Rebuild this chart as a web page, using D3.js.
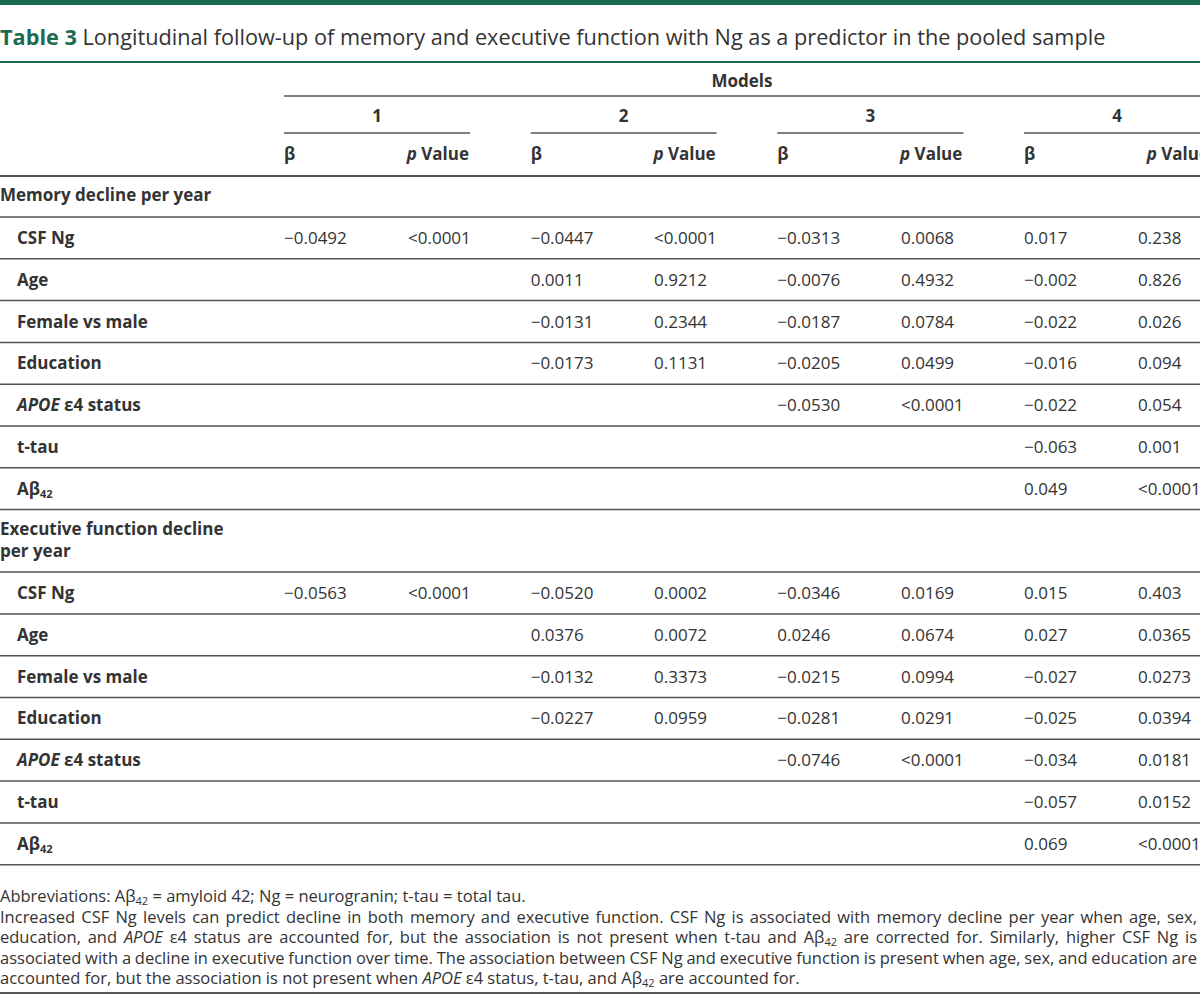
<!DOCTYPE html>
<html>
<head>
<meta charset="utf-8">
<script src="https://cdn.jsdelivr.net/npm/d3@7"></script>
<style>
body { margin: 0; background: #fff; }
svg { display: block; }
</style>
</head>
<body>
<script>
// table content
var models = ["1", "2", "3", "4"];
var predictors = ["CSF Ng", "Age", "Female vs male", "Education", "APOE \u03b54 status", "t-tau", "A\u03b242"];
var sections = ["Memory decline per year", "Executive function decline|per year"];

// beta and p per predictor, one entry per model (null = empty cell)
var memoryBeta = [
	["\u22120.0492", "\u22120.0447", "\u22120.0313", "0.017"],
	[null, "0.0011", "\u22120.0076", "\u22120.002"],
	[null, "\u22120.0131", "\u22120.0187", "\u22120.022"],
	[null, "\u22120.0173", "\u22120.0205", "\u22120.016"],
	[null, null, "\u22120.0530", "\u22120.022"],
	[null, null, null, "\u22120.063"],
	[null, null, null, "0.049"]
];
var memoryP = [
	["<0.0001", "<0.0001", "0.0068", "0.238"],
	[null, "0.9212", "0.4932", "0.826"],
	[null, "0.2344", "0.0784", "0.026"],
	[null, "0.1131", "0.0499", "0.094"],
	[null, null, "<0.0001", "0.054"],
	[null, null, null, "0.001"],
	[null, null, null, "<0.0001"]
];
var execBeta = [
	["\u22120.0563", "\u22120.0520", "\u22120.0346", "0.015"],
	[null, "0.0376", "0.0246", "0.027"],
	[null, "\u22120.0132", "\u22120.0215", "\u22120.027"],
	[null, "\u22120.0227", "\u22120.0281", "\u22120.025"],
	[null, null, "\u22120.0746", "\u22120.034"],
	[null, null, null, "\u22120.057"],
	[null, null, null, "0.069"]
];
var execP = [
	["<0.0001", "0.0002", "0.0169", "0.403"],
	[null, "0.0072", "0.0674", "0.0365"],
	[null, "0.3373", "0.0994", "0.0273"],
	[null, "0.0959", "0.0291", "0.0394"],
	[null, null, "<0.0001", "0.0181"],
	[null, null, null, "0.0152"],
	[null, null, null, "<0.0001"]
];

var titleLabel = "Table 3";
var titleText = "Longitudinal follow-up of memory and executive function with Ng as a predictor in the pooled sample";

// footnote lines, runs: n normal, i italic, sub subscript
var footLines = [
	{ just: false, runs: [{t: "Abbreviations: A\u03b2"}, {t: "42", s: "sub"}, {t: " = amyloid 42; Ng = neurogranin; t-tau = total tau."}] },
	{ just: true, runs: [{t: "Increased CSF Ng levels can predict decline in both memory and executive function. CSF Ng is associated with memory decline per year when age, sex,"}] },
	{ just: true, runs: [{t: "education, and "}, {t: "APOE", s: "i"}, {t: " \u03b54 status are accounted for, but the association is not present when t-tau and A\u03b2"}, {t: "42", s: "sub"}, {t: " are corrected for. Similarly, higher CSF Ng is"}] },
	{ just: true, runs: [{t: "associated with a decline in executive function over time. The association between CSF Ng and executive function is present when age, sex, and education are"}] },
	{ just: false, runs: [{t: "accounted for, but the association is not present when "}, {t: "APOE", s: "i"}, {t: " \u03b54 status, t-tau, and A\u03b2"}, {t: "42", s: "sub"}, {t: " are accounted for."}] }
];

var width = 1200;
var height = 997;
var green = "#1c6b4e";
var ink = "#333";
var rule = "#555";
var font = "'Open Sans', sans-serif";
var cellSize = 17;

var svg = d3.select("body")
	.append("svg")
	.attr("width", width)
	.attr("height", height)
	.style("font-family", font);

// green band at the top
svg.append("rect")
	.attr("x", 0).attr("y", 0)
	.attr("width", width).attr("height", 5)
	.attr("fill", green);

// title
var title = svg.append("text")
	.attr("x", 0).attr("y", 45)
	.attr("font-size", 21.7)
	.attr("fill", ink);
title.append("tspan").attr("font-weight", "bold").attr("fill", green).text(titleLabel);
title.append("tspan").text(" " + titleText);

svg.append("line")
	.attr("x1", 0).attr("x2", width)
	.attr("y1", 62).attr("y2", 62)
	.attr("stroke", green).attr("stroke-width", 2);

// column scales
var modelX = d3.scaleLinear().domain([0, 3]).range([284, 1024]);
var pX = d3.scaleOrdinal().domain([0, 1, 2, 3]).range([408, 654, 901, 1138]);
var spanW = 186;

function hline(x1, x2, y, w) {
	svg.append("line")
		.attr("x1", x1).attr("x2", x2)
		.attr("y1", y).attr("y2", y)
		.attr("stroke", rule)
		.attr("stroke-width", w || 1.5);
}

// header
svg.append("text")
	.attr("x", (modelX(0) + width) / 2).attr("y", 87)
	.attr("text-anchor", "middle")
	.attr("font-size", cellSize).attr("font-weight", "bold").attr("fill", ink)
	.text("Models");
hline(modelX(0), width, 96);

models.forEach(function(m, i) {
	svg.append("text")
		.attr("x", modelX(i) + spanW / 2).attr("y", 122)
		.attr("text-anchor", "middle")
		.attr("font-size", cellSize).attr("font-weight", "bold").attr("fill", ink)
		.text(m);
	hline(modelX(i), modelX(i) + spanW, 133);

	svg.append("text")
		.attr("x", modelX(i)).attr("y", 160)
		.attr("font-size", cellSize).attr("font-weight", "bold").attr("fill", ink)
		.text("\u03b2");
	var pv = svg.append("text")
		.attr("x", modelX(i) + spanW - 1).attr("y", 160)
		.attr("text-anchor", "end")
		.attr("font-size", cellSize).attr("font-weight", "bold").attr("fill", ink);
	pv.append("tspan").attr("font-style", "italic").text("p");
	pv.append("tspan").text(" Value");
});
hline(0, width, 176, 1.8);

// rows
var rowH = 41.8;
var blocks = [
	{ title: sections[0], headH: 41, beta: memoryBeta, p: memoryP },
	{ title: sections[1], headH: 62.5, beta: execBeta, p: execP }
];

function labelText(g, x, y, label) {
	var t = g.append("text")
		.attr("x", x).attr("y", y)
		.attr("font-size", cellSize).attr("font-weight", "bold").attr("fill", ink);
	if (label.indexOf("APOE") === 0) {
		t.append("tspan").attr("font-style", "italic").text("APOE");
		t.append("tspan").text(label.slice(4));
	} else if (label === "A\u03b242") {
		t.append("tspan").text("A\u03b2");
		t.append("tspan").attr("font-size", 11).attr("dy", 3).text("42");
	} else {
		t.text(label);
	}
}

var curY = 176;
blocks.forEach(function(b) {
	var lines = b.title.split("|");
	lines.forEach(function(l, k) {
		svg.append("text")
			.attr("x", 0).attr("y", curY + 25 + k * 22)
			.attr("font-size", cellSize).attr("font-weight", "bold").attr("fill", ink)
			.text(l);
	});
	curY += b.headH;
	hline(0, width, curY);

	var rowY = d3.scaleLinear().domain([0, 1]).range([curY, curY + rowH]);

	predictors.forEach(function(pred, r) {
		var base = rowY(r) + rowH / 2 + 6;
		labelText(svg, 17, base, pred);
		models.forEach(function(m, c) {
			if (b.beta[r][c] !== null) {
				svg.append("text")
					.attr("x", modelX(c)).attr("y", base)
					.attr("font-size", cellSize).attr("fill", ink)
					.text(b.beta[r][c]);
			}
			if (b.p[r][c] !== null) {
				svg.append("text")
					.attr("x", pX(c)).attr("y", base)
					.attr("font-size", cellSize).attr("fill", ink)
					.text(b.p[r][c]);
			}
		});
		hline(0, width, rowY(r + 1));
	});
	curY = rowY(predictors.length);
});

// footnotes, justified by hand
var footSize = 16.5;
var footW = 1197;
var minGap = 3.2;

function splitWords(runs) {
	var words = [], cur = [];
	runs.forEach(function(r) {
		var parts = r.t.split(" ");
		parts.forEach(function(p, i) {
			if (i > 0) {
				if (cur.length) words.push(cur);
				cur = [];
			}
			if (p) cur.push({ t: p, s: r.s });
		});
	});
	if (cur.length) words.push(cur);
	return words;
}

function drawWord(g, word, ls) {
	var t = g.append("text")
		.attr("y", 0)
		.attr("font-size", footSize).attr("fill", ink)
		.attr("letter-spacing", ls);
	var shifted = false;
	word.forEach(function(r) {
		var ts = t.append("tspan").text(r.t);
		if (r.s === "i") ts.attr("font-style", "italic");
		if (r.s === "sub") {
			ts.attr("font-size", 11).attr("dy", 3);
			shifted = true;
		} else if (shifted) {
			ts.attr("dy", -3);
			shifted = false;
		}
	});
	return t;
}

// width of a space
var probe = svg.append("text").attr("font-size", footSize).text("a a");
var probe2 = svg.append("text").attr("font-size", footSize).text("aa");
var spaceW = probe.node().getComputedTextLength() - probe2.node().getComputedTextLength();
probe.remove();
probe2.remove();

var footY = d3.scaleLinear().domain([0, 1]).range([902, 922.6]);

footLines.forEach(function(line, li) {
	var g = svg.append("g").attr("transform", "translate(0," + footY(li) + ")");
	var words = splitWords(line.runs);
	var ls = 0;
	var texts, widths, sum, gap;
	function layout() {
		g.selectAll("text").remove();
		texts = words.map(function(w) { return drawWord(g, w, ls); });
		widths = texts.map(function(t) { return t.node().getComputedTextLength(); });
		sum = d3.sum(widths);
	}
	layout();
	gap = line.just ? (footW - sum) / (words.length - 1) : spaceW;
	if (line.just && gap < minGap) {
		var chars = d3.sum(words, function(w) { return d3.sum(w, function(r) { return r.t.length; }); });
		ls = (footW - sum - minGap * (words.length - 1)) / chars;
		layout();
		gap = (footW - sum) / (words.length - 1);
	}
	var x = 0;
	texts.forEach(function(t, i) {
		t.attr("x", x);
		x += widths[i] + gap;
	});
});

hline(0, width, 993, 2.2);
</script>
</body>
</html>
